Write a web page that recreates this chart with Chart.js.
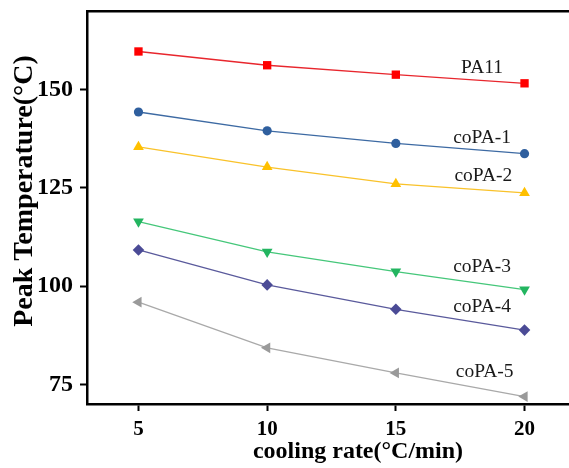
<!DOCTYPE html>
<html>
<head>
<meta charset="utf-8">
<script src="https://cdn.jsdelivr.net/npm/chart.js@4/dist/chart.umd.min.js"></script>
<style>
  html, body { margin: 0; padding: 0; background: #fff; overflow: hidden; }
  #wrap { width: 600px; height: 468px; }
</style>
</head>
<body>
<div id="wrap"><canvas id="c" width="600" height="468"></canvas></div>
<script>
// ---- data ----
const coolingRates = [5, 10, 15, 20];
const seriesNames = ['PA11', 'coPA-1', 'coPA-2', 'coPA-3', 'coPA-4', 'coPA-5'];
const pa11  = [159.7, 156.2, 153.8, 151.6];
const copa1 = [144.3, 139.5, 136.3, 133.7];
const copa2 = [135.4, 130.3, 126.0, 123.7];
const copa3 = [116.4, 108.7, 103.7, 99.1];
const copa4 = [109.2, 100.3, 94.1, 88.8];
const copa5 = [95.9, 84.3, 77.9, 71.9];
const xMajorTicks = [5, 10, 15, 20];
const xMinorTicks = [7.5, 12.5, 17.5];
const yMajorTicks = [75, 100, 125, 150];
const yMinorTicks = [87.5, 112.5, 137.5, 162.5];
// label anchors (data units) for the series names
const labelX = [18.35, 18.35, 18.4, 18.35, 18.35, 18.45];
const labelY = [155.6, 137.8, 128.1, 104.9, 94.8, 78.3];

const allValues = [pa11, copa1, copa2, copa3, copa4, copa5];
const lineColors  = ['#e8262d', '#3d6aa3', '#f9c22a', '#45c77a', '#5a5a9c', '#a9a9a9'];
const pointColors = ['#ff0000', '#2f5f9e', '#ffc000', '#23b560', '#4b4b96', '#9a9a9a'];
const pointStyles = ['rect', 'circle', 'triangle', 'triangle', 'rectRot', 'triangle'];
const pointRots   = [0, 0, 0, 180, 0, -90];
const pointRadii  = [5.9, 4.6, 6.2, 6.2, 5.8, 6.2];

const datasets = seriesNames.map((name, i) => ({
  label: name,
  data: coolingRates.map((x, j) => ({ x: x, y: allValues[i][j] })),
  borderColor: lineColors[i],
  backgroundColor: pointColors[i],
  pointBackgroundColor: pointColors[i],
  pointBorderColor: pointColors[i],
  pointBorderWidth: 0,
  borderWidth: 1.3,
  pointStyle: pointStyles[i],
  pointRotation: pointRots[i],
  pointRadius: pointRadii[i],
  tension: 0,
  fill: false
}));

const serif = '"Liberation Serif", "Times New Roman", serif';

const titlesPlugin = {
  id: 'titles',
  afterDraw(chart) {
    const ctx = chart.ctx;
    const xs = chart.scales.x, ys = chart.scales.y;
    ctx.save();
    ctx.fillStyle = '#1a1a1a';
    ctx.font = '19.5px ' + serif;
    ctx.textAlign = 'center';
    ctx.textBaseline = 'middle';
    seriesNames.forEach((n, i) => {
      ctx.fillText(n, xs.getPixelForValue(labelX[i]), ys.getPixelForValue(labelY[i]));
    });
    ctx.fillStyle = '#000';
    ctx.font = 'bold 24px ' + serif;
    ctx.fillText('cooling rate(°C/min)', 358, 452);
    ctx.translate(25, 191);
    ctx.rotate(-Math.PI / 2);
    ctx.font = 'bold 28px ' + serif;
    ctx.fillText('Peak Temperature(°C)', 0, 0);
    ctx.restore();
  }
};

function noPad(s) { s.paddingTop = 0; s.paddingBottom = 0; s.paddingLeft = 0; s.paddingRight = 0; }

new Chart(document.getElementById('c'), {
  type: 'line',
  data: { datasets: datasets },
  options: {
    responsive: false,
    animation: false,
    layout: { padding: { left: 0, top: 11, right: 24, bottom: 0 } },
    plugins: { legend: { display: false }, tooltip: { enabled: false } },
    scales: {
      x: {
        type: 'linear', position: 'bottom', min: 3, max: 22,
        afterBuildTicks: s => { s.ticks = xMajorTicks.map(v => ({ value: v })); },
        afterFit: s => { s.height = 64; noPad(s); },
        grid: { drawOnChartArea: false, drawTicks: true, tickLength: 7, tickWidth: 2, tickColor: '#000' },
        border: { display: true, color: '#000', width: 2.5 },
        ticks: { color: '#000', padding: 6, maxRotation: 0,
          font: { family: serif, size: 21, weight: 'bold' } }
      },
      xMinor: {
        type: 'linear', position: 'bottom', min: 3, max: 22,
        afterBuildTicks: s => { s.ticks = xMinorTicks.map(v => ({ value: v })); },
        afterFit: s => { s.height = 0; noPad(s); },
        grid: { drawOnChartArea: false, drawTicks: true, tickLength: 4, tickWidth: 2, tickColor: '#000' },
        border: { display: false },
        ticks: { display: false }
      },
      xTop: {
        type: 'linear', position: 'top', min: 3, max: 22,
        afterFit: s => { s.height = 0; noPad(s); },
        grid: { display: false },
        border: { display: true, color: '#000', width: 2.5 },
        ticks: { display: false }
      },
      y: {
        type: 'linear', position: 'left', min: 70, max: 170,
        afterBuildTicks: s => { s.ticks = yMajorTicks.map(v => ({ value: v })); },
        afterFit: s => { s.width = 87; noPad(s); },
        grid: { drawOnChartArea: false, drawTicks: true, tickLength: 7, tickWidth: 2, tickColor: '#000' },
        border: { display: true, color: '#000', width: 2.5 },
        ticks: { color: '#000', padding: 7,
          font: { family: serif, size: 24, weight: 'bold' } }
      },
      yMinor: {
        type: 'linear', position: 'left', min: 70, max: 170,
        afterBuildTicks: s => { s.ticks = yMinorTicks.map(v => ({ value: v })); },
        afterFit: s => { s.width = 0; noPad(s); },
        grid: { drawOnChartArea: false, drawTicks: true, tickLength: 4, tickWidth: 2, tickColor: '#000' },
        border: { display: false },
        ticks: { display: false }
      }
    }
  },
  plugins: [titlesPlugin]
});
</script>
</body>
</html>
